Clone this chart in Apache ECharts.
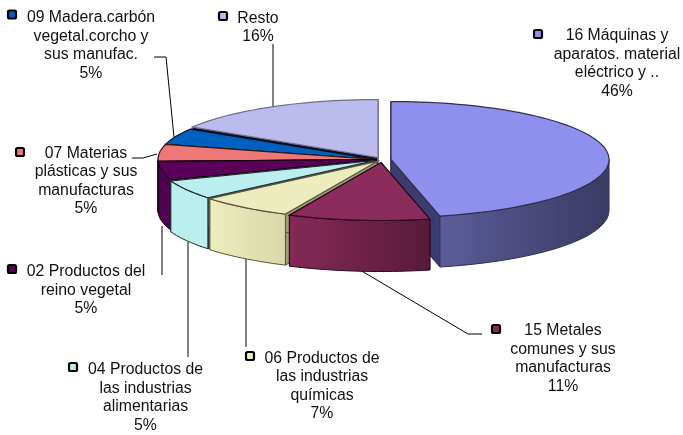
<!DOCTYPE html>
<html><head><meta charset="utf-8">
<style>html,body{margin:0;padding:0;background:#fff}#c{width:683px;height:435px}</style>
<script src="https://cdn.jsdelivr.net/npm/echarts@6/dist/echarts.min.js"></script>
</head><body><div id="c"></div>
<script>
const categories = ['16 Máquinas y\naparatos. material\neléctrico y ..','15 Metales\ncomunes y sus\nmanufacturas','06 Productos de\nlas industrias\nquímicas','04 Productos de\nlas industrias\nalimentarias','02 Productos del\nreino vegetal','07 Materias\nplásticas y sus\nmanufacturas','09 Madera.carbón\nvegetal.corcho y\nsus manufac.','Resto'];
const values = [46.4,10.5,7,5.4,5.2,4.7,4.6,16.2];
const percentLabels = ['46%','11%','7%','5%','5%','5%','5%','16%'];

const topColors  = ['#8F8FEE','#8B2C5C','#ECECBC','#BBEEEE','#5A005A','#EE7777','#0060C0','#BBBBEE'];
const wallFrom   = ['#5C5C9A','#842A56','#ECECBC','#BBEEEE','#500050','#D06868','#0050A0','#9898C8'];
const wallTo     = ['#3A3A64','#581A38','#D8D8A8','#BBEEEE','#500050','#D06868','#0050A0','#9898C8'];
const cutColors  = ['#3C3C70','#581A38','#9C9C78','#3E5A5A','#200020','#301010','#000818','#101018'];
const edgeColors = ['#30304A','#2A0A1C','#555540','#202828','#100010','#301818','#081020','#70708A'];
const offsets    = [[13,0],[3,3],[-1,2],[-3,1],[-2,0],[-2,0],[-2,0],[0,-2]];
const labelPos   = [[617,36,538,34],[563,331,496,329],[322,358.5,250,356],[145.5,370,73,367],[86,272,12,269],[86,153.5,20,152],[91,18,12,14.5],[258,18.5,223,16]];
const leaders    = [null,
  [[360,270],[468,334],[482,334]],
  [[246,258],[246,347]],
  [[188,242],[188,357]],
  [[162,226],[162,275]],
  [[132,158],[143,158],[157,154]],
  [[154,57],[166,57],[174,137]],
  [[273,44],[273,109]]];

const CX = 378, CY = 159.5, RX = 218, RY = 58, DEPTH = 51;
const total = values.reduce((a,b)=>a+b,0);
const starts = []; values.reduce((a,v,i)=>(starts[i]=a,a+v),0);
// back-to-front painter's order
const drawOrder = values.map((v,i)=>i).sort((a,b)=>{
  const m = i => Math.cos((starts[i]+values[i]/2)/total*2*Math.PI);
  return m(b)-m(a);
});
const pt = (deg,ox,oy,d) => [CX+ox+RX*Math.sin(deg*Math.PI/180), CY+oy+d-RY*Math.cos(deg*Math.PI/180)];
function arc(a,b,ox,oy,d){ const n=Math.max(2,Math.ceil(Math.abs(b-a)/2)); const out=[]; for(let k=0;k<=n;k++) out.push(pt(a+(b-a)*k/n,ox,oy,d)); return out; }

function renderItem(params, api){
  const i = api.value(1), v = api.value(0);
  const a = starts[i]/total*360, b = a+v/total*360;
  const [ox,oy] = offsets[i];
  const edge = edgeColors[i];
  const children = [];
  const apex = [CX+ox,CY+oy], apexD=[CX+ox,CY+oy+DEPTH];
  const face = ang => ({type:'polygon',shape:{points:[apex,pt(ang,ox,oy,0),pt(ang,ox,oy,DEPTH),apexD]},
    style:{fill:cutColors[i],stroke:edge,lineWidth:1}});
  children.push(face(a));
  children.push(face(b));
  // outer wall, front half only
  const w0=Math.max(a,90), w1=Math.min(b,270);
  if (w1>w0){
    const pts=arc(w0,w1,ox,oy,0).concat(arc(w1,w0,ox,oy,DEPTH));
    children.push({type:'polygon',shape:{points:pts},style:{
      fill:{type:'linear',x:0,y:0,x2:1,y2:0,colorStops:[{offset:0,color:wallFrom[i]},{offset:1,color:wallTo[i]}]},
      stroke:edge,lineWidth:1}});
  }
  // top
  children.push({type:'polygon',shape:{points:[apex].concat(arc(a,b,ox,oy,0))},
    style:{fill:topColors[i],stroke:edge,lineWidth:1.2}});
  return {type:'group',children};
}

const TEXT = '#111';
const graphics = [];
categories.forEach((name,i)=>{
  const [x,y,kx,ky]=labelPos[i];
  graphics.push({type:'text',z:10,style:{text:name+'\n'+percentLabels[i],x:x,y:y-9.25,align:'center',verticalAlign:'top',
    fontFamily:'"Liberation Sans",Arial,sans-serif',fontSize:15.8,lineHeight:18.5,fill:TEXT}});
  graphics.push({type:'rect',z:10,shape:{x:kx-4,y:ky-4,width:8,height:8,r:1.5},style:{fill:topColors[i],stroke:'#000',lineWidth:2.2}});
  if (leaders[i]) graphics.push({type:'polyline',z:1,shape:{points:leaders[i]},style:{fill:null,stroke:'#000',lineWidth:1}});
});

const chart = echarts.init(document.getElementById('c'),null,{renderer:'canvas'});
chart.setOption({
  animation:false,
  backgroundColor:'#fff',
  graphic:{elements:graphics},
  series:[{type:'custom',coordinateSystem:'none',silent:true,renderItem,
    data:drawOrder.map(i=>({value:[values[i],i],name:categories[i]}))}]
});
</script></body></html>
